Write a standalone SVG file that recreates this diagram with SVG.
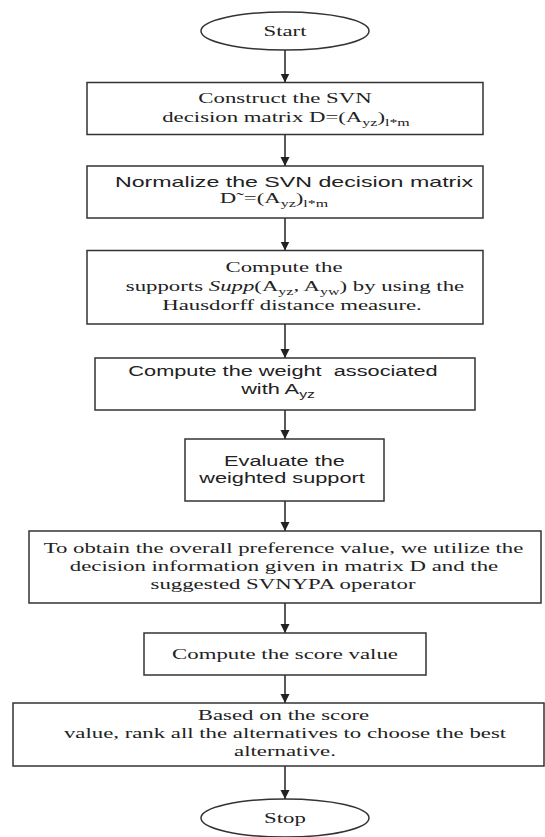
<svg xmlns="http://www.w3.org/2000/svg" width="545" height="837" viewBox="0 0 545 837">
<defs>
<style>
.box{fill:#fff;stroke:#333;stroke-width:1.5}
.term{fill:#fff;stroke:#333;stroke-width:1.5}
.serif{font-family:"Liberation Serif","Times New Roman",serif;font-size:15px;fill:#222;text-anchor:middle}
.sans{font-family:"Liberation Sans",Arial,sans-serif;font-size:14.5px;fill:#222;text-anchor:middle}
.sub{font-size:10.5px}
.conn{stroke:#222;stroke-width:1.5;fill:none;marker-end:url(#arrow)}
</style>
<marker id="arrow" viewBox="0 0 10 10" refX="10" refY="5" markerUnits="userSpaceOnUse" markerWidth="9" markerHeight="10" orient="auto">
<path d="M0,0 L10,5 L0,10 z" fill="#222"/>
</marker>
</defs>
<rect width="545" height="837" fill="#fff"/>

<g id="connectors">
<line class="conn" x1="285" y1="50" x2="285" y2="82.5"/>
<line class="conn" x1="285" y1="134.5" x2="285" y2="166"/>
<line class="conn" x1="285" y1="218" x2="285" y2="250.5"/>
<line class="conn" x1="285" y1="324" x2="285" y2="358"/>
<line class="conn" x1="285" y1="410" x2="285" y2="439"/>
<line class="conn" x1="285" y1="501" x2="285" y2="531"/>
<line class="conn" x1="285" y1="603" x2="285" y2="633"/>
<line class="conn" x1="285" y1="675" x2="285" y2="703"/>
<line class="conn" x1="285" y1="766" x2="285" y2="799"/>
</g>

<g id="start">
<ellipse class="term" cx="285" cy="31" rx="84" ry="19"/>
<text class="serif" transform="translate(285 0) scale(1.52 1)" x="0" y="36">Start</text>
</g>

<g id="construct">
<rect class="box" x="87" y="82.5" width="396" height="52"/>
<text class="serif" transform="translate(285 0) scale(1.52 1)" x="0" y="103">Construct the SVN</text>
<text class="serif" transform="translate(286 0) scale(1.52 1)" x="0" y="122">decision matrix D=(A<tspan class="sub" dy="4">yz</tspan><tspan dy="-4">)</tspan><tspan class="sub" dy="4">l*m</tspan></text>
</g>

<g id="normalize">
<rect class="box" x="87" y="166" width="396" height="52"/>
<text class="sans" transform="translate(294 0) scale(1.6 1)" x="0" y="187.5">Normalize the SVN decision matrix</text>
<text class="serif" transform="translate(274 0) scale(1.52 1)" x="0" y="203.5">D˜=(A<tspan class="sub" dy="4">yz</tspan><tspan dy="-4">)</tspan><tspan class="sub" dy="4">l*m</tspan></text>
</g>

<g id="supports">
<rect class="box" x="87" y="250.5" width="396" height="73.5"/>
<text class="serif" transform="translate(284 0) scale(1.52 1)" x="0" y="272.5">Compute the</text>
<text class="serif" transform="translate(295 0) scale(1.52 1)" x="0" y="291.5">supports <tspan font-style="italic">Supp</tspan>(A<tspan class="sub" dy="4">yz</tspan><tspan dy="-4">, A</tspan><tspan class="sub" dy="4">yw</tspan><tspan dy="-4">) by using the</tspan></text>
<text class="serif" transform="translate(292 0) scale(1.52 1)" x="0" y="310.5">Hausdorff distance measure.</text>
</g>

<g id="weight">
<rect class="box" x="95" y="358" width="380" height="52"/>
<text class="sans" style="white-space:pre" transform="translate(283 0) scale(1.5 1)" x="0" y="376">Compute the weight  associated</text>
<text class="sans" transform="translate(278 0) scale(1.5 1)" x="0" y="394">with A<tspan class="sub" dy="4">yz</tspan></text>
</g>

<g id="evaluate">
<rect class="box" x="185" y="439" width="199" height="62"/>
<text class="sans" transform="translate(284.5 0) scale(1.5 1)" x="0" y="466.5">Evaluate the</text>
<text class="sans" transform="translate(282 0) scale(1.5 1)" x="0" y="483.5">weighted support</text>
</g>

<g id="overall">
<rect class="box" x="29" y="531" width="512" height="72"/>
<text class="serif" transform="translate(283.5 0) scale(1.52 1)" x="0" y="553">To obtain the overall preference value, we utilize the</text>
<text class="serif" transform="translate(284 0) scale(1.52 1)" x="0" y="571">decision information given in matrix D and the</text>
<text class="serif" transform="translate(283 0) scale(1.52 1)" x="0" y="589">suggested SVNYPA operator</text>
</g>

<g id="score">
<rect class="box" x="144" y="633" width="282" height="42"/>
<text class="serif" transform="translate(285 0) scale(1.52 1)" x="0" y="659">Compute the score value</text>
</g>

<g id="rank">
<rect class="box" x="13" y="703" width="531" height="63"/>
<text class="serif" transform="translate(283.5 0) scale(1.52 1)" x="0" y="720.5">Based on the score</text>
<text class="serif" transform="translate(285 0) scale(1.52 1)" x="0" y="738.5">value, rank all the alternatives to choose the best</text>
<text class="serif" transform="translate(285 0) scale(1.52 1)" x="0" y="756">alternative.</text>
</g>

<g id="stop">
<ellipse class="term" cx="285" cy="818" rx="84" ry="19"/>
<text class="serif" transform="translate(285 0) scale(1.52 1)" x="0" y="823">Stop</text>
</g>
</svg>
